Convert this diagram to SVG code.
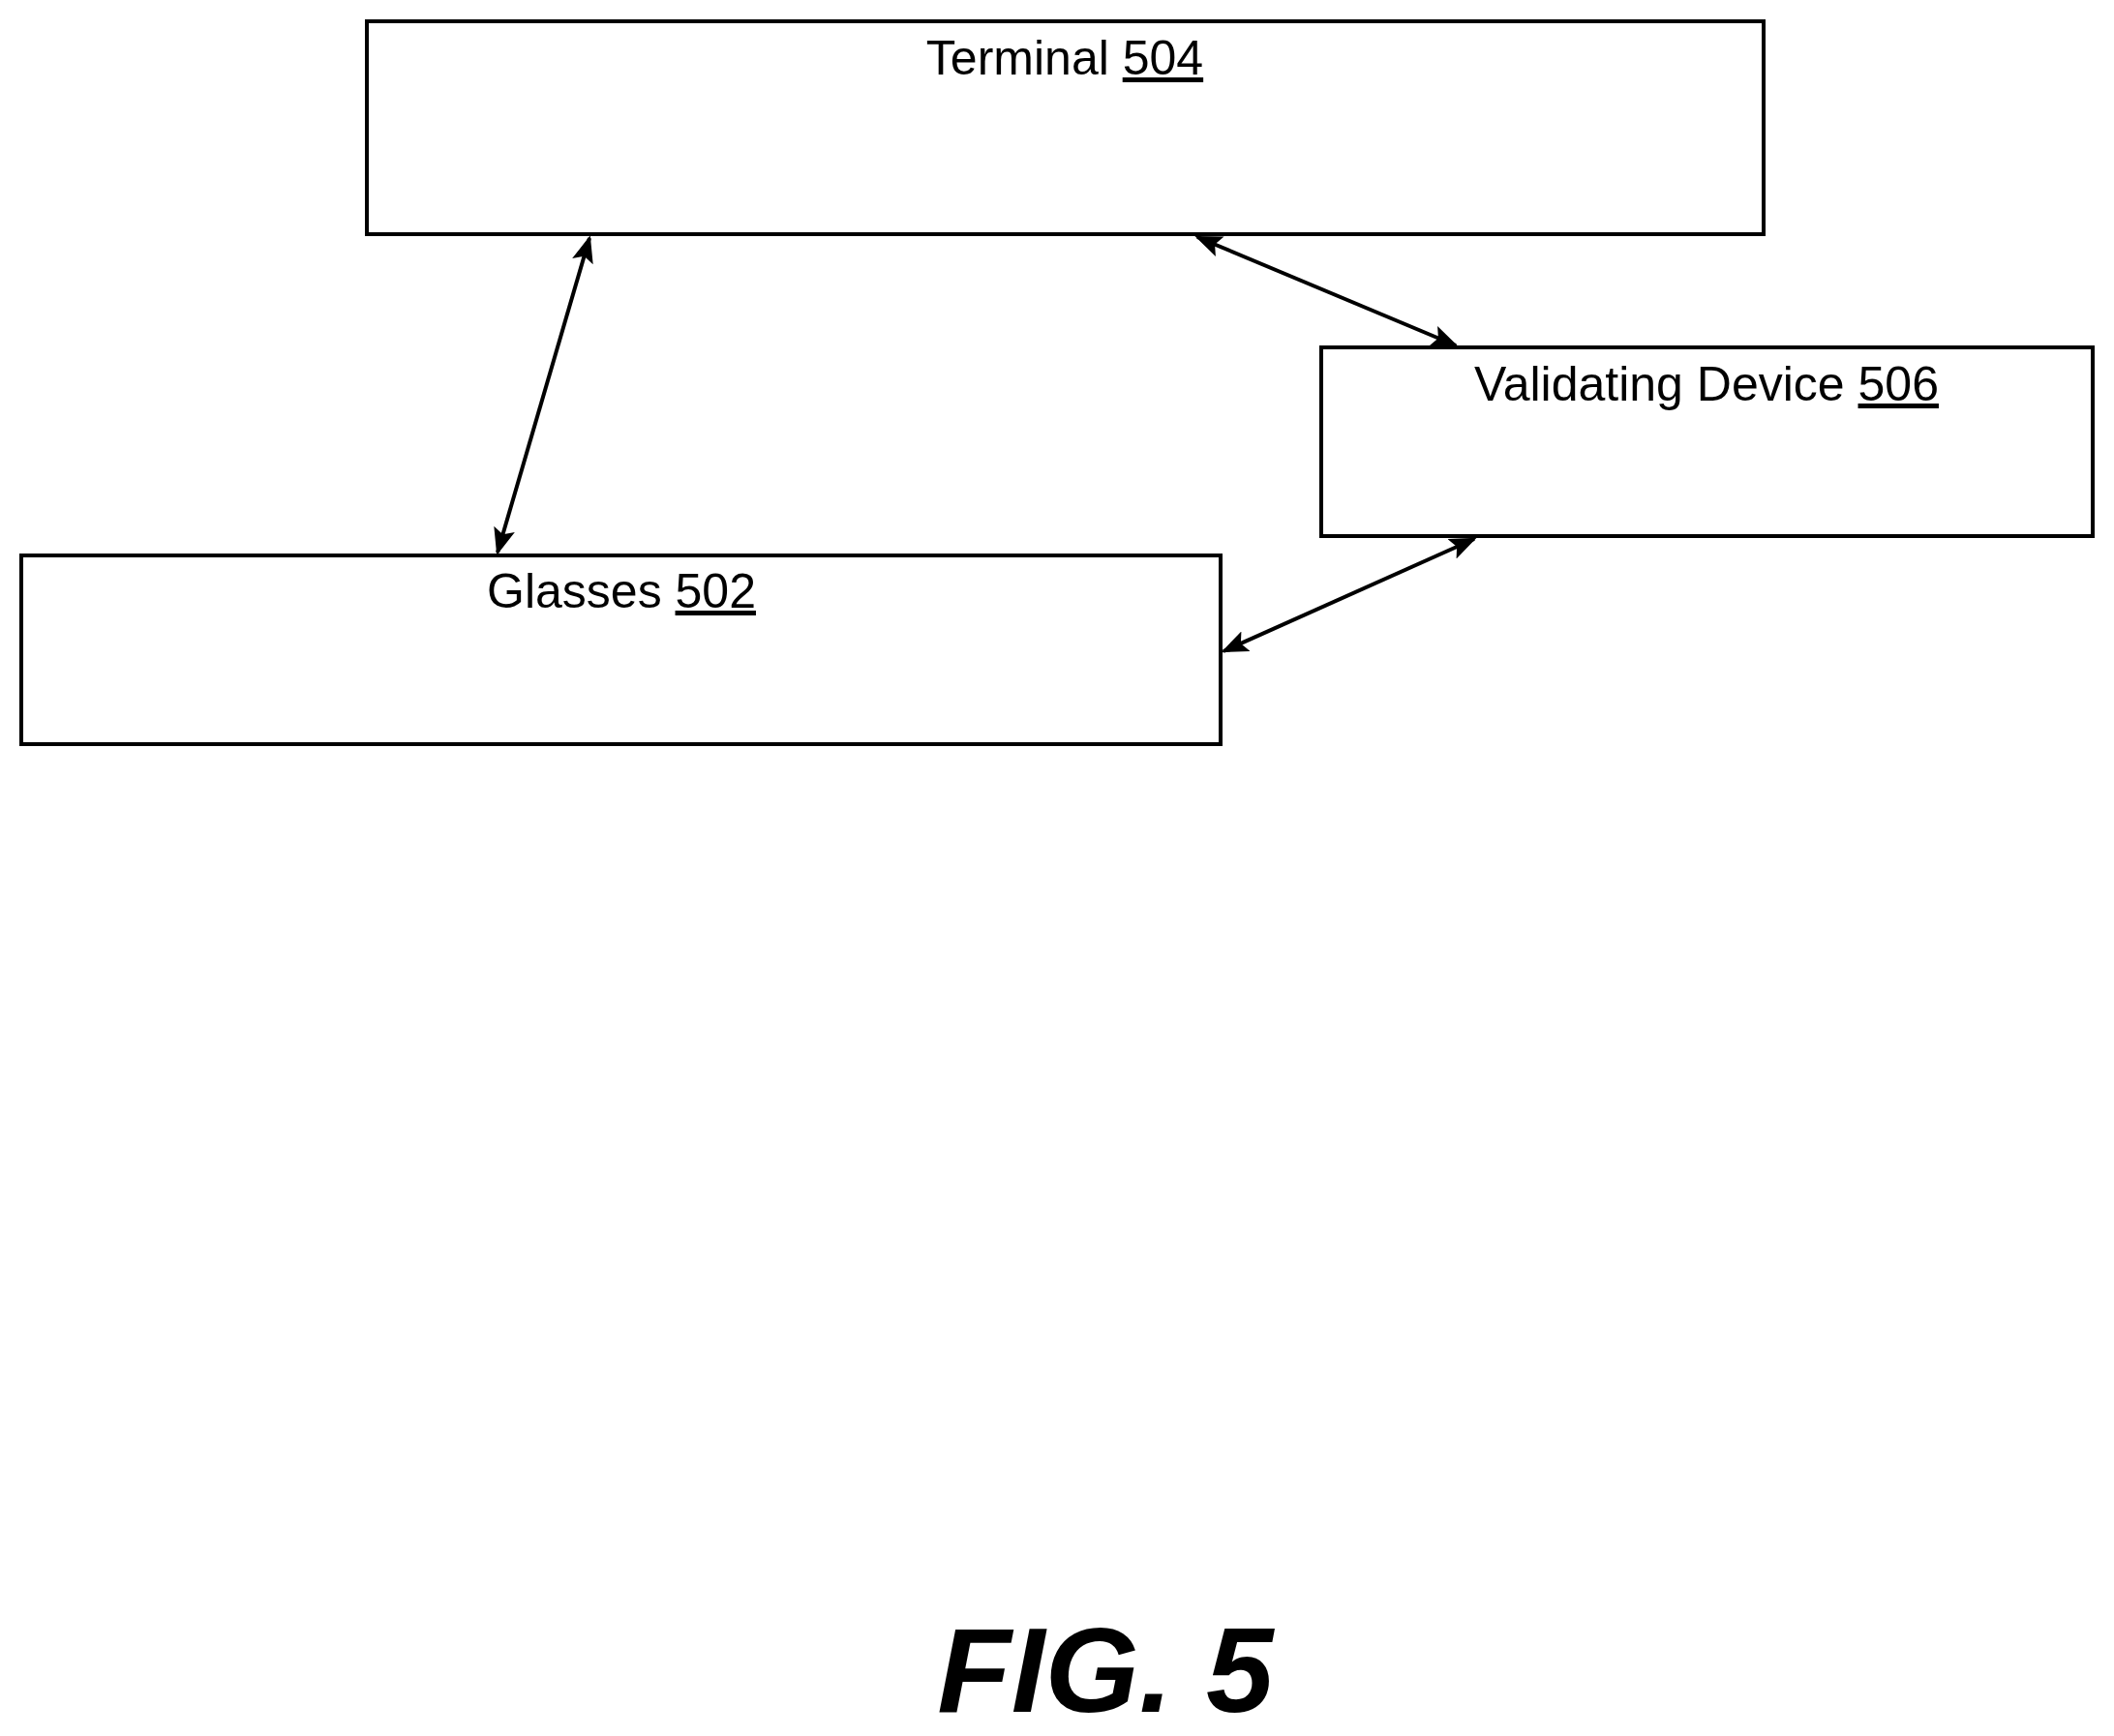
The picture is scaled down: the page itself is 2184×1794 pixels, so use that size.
<svg xmlns="http://www.w3.org/2000/svg" width="2184" height="1794" viewBox="0 0 2184 1794">
<style>
.box{fill:#fff;stroke:#000;stroke-width:4}
.lbl{font-family:"Liberation Sans",Arial,sans-serif;font-size:50px;text-anchor:middle;fill:#000}
.con{stroke:#000;stroke-width:4;fill:none;marker-start:url(#ah);marker-end:url(#ah)}
</style>
<defs>
<marker id="ah" viewBox="0 0 10 10" refX="9" refY="5" markerWidth="7" markerHeight="7" orient="auto-start-reverse" markerUnits="strokeWidth">
<path d="M0,1 L10,5 L0,9 L2,5 Z" fill="#000"/>
</marker>
</defs>
<rect width="2184" height="1794" fill="#fff"/>
<g id="terminal"><rect class="box" x="379" y="22" width="1443" height="220"/>
<text class="lbl" x="1100" y="77">Terminal <tspan text-decoration="underline">504</tspan></text></g>
<g id="validating"><rect class="box" x="1365" y="359" width="797" height="195"/>
<text class="lbl" x="1763" y="414">Validating Device <tspan text-decoration="underline">506</tspan></text></g>
<g id="glasses"><rect class="box" x="22" y="574" width="1239" height="195"/>
<text class="lbl" x="642" y="628">Glasses <tspan text-decoration="underline">502</tspan></text></g>
<g id="connectors">
<line class="con" x1="609" y1="246" x2="514" y2="571"/>
<line class="con" x1="1237" y1="245" x2="1504" y2="357"/>
<line class="con" x1="1523" y1="557" x2="1264" y2="673"/>
</g>
<text x="1142" y="1769" font-family="Liberation Sans,Arial,sans-serif" font-size="125" font-weight="bold" font-style="italic" text-anchor="middle">FIG. 5</text>
</svg>
